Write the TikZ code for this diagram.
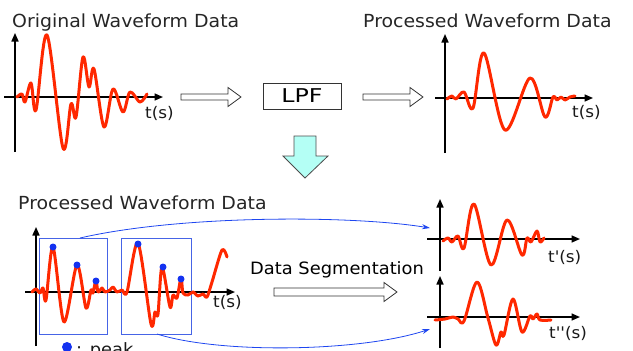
\documentclass[tikz,border=0pt]{standalone}
\usepackage{fontspec}
\setmainfont{DejaVu Sans}[FakeStretch=1.05, Ligatures=TeXOff]
\usetikzlibrary{arrows.meta}
\definecolor{wred}{RGB}{255,40,0}
\definecolor{pkblue}{RGB}{20,50,240}
\definecolor{segblue}{RGB}{70,100,230}
\definecolor{conblue}{RGB}{30,70,240}
\definecolor{aqua}{RGB}{180,255,245}
\tikzset{
  axis/.style={line width=1.5pt, -{Triangle[length=8.5pt,width=7pt]}},
  wave/.style={wred, line width=3pt, line join=round, line cap=round},
  hollow/.style={draw=black!80, fill=white, line width=0.8pt, line join=miter},
  title/.style={font=\fontsize{18}{20}\selectfont, text=black!85, inner sep=0pt, anchor=base west},
  axlabel/.style={font=\fontsize{16}{18}\selectfont, text=black!90, inner sep=0pt, anchor=base west},
  segbox/.style={draw=segblue, line width=0.9pt, minimum width=#1, minimum height=96pt, inner sep=0pt},
  conn/.style={draw=conblue, line width=0.8pt, -{Stealth[length=8pt,width=5pt]}},
  peakdot/.style={circle, fill=pkblue, inner sep=0pt, minimum size=7pt},
}
\newcommand\harrow[6]{\draw[hollow] (#1,#3-#4) -- (#2-#6,#3-#4) -- (#2-#6,#3-#5) -- (#2,#3) -- (#2-#6,#3+#5) -- (#2-#6,#3+#4) -- (#1,#3+#4) -- cycle;}
\begin{document}
\begin{tikzpicture}[x=1pt,y=-1pt]
\useasboundingbox (0,0) rectangle (633,351);

% ---------- top left: original ----------
\node[title] (t1) at (12,27) {Original Waveform Data};
\coordinate (a1b) at (15,152); \coordinate (a1t) at (15,33);
\coordinate (a1l) at (4,97);   \coordinate (a1r) at (163,97);
\draw[axis] (a1b) -- (a1t);
\draw[axis] (a1l) -- (a1r);
\node[axlabel] (l1) at (145,118) {t(s)};
\draw[wave] plot[smooth, tension=0.55] coordinates {
 (17,97) (22,94) (25,102) (31,83) (36,110) (47,35) (63,148) (71,104) (76,117)
 (83,57) (89,87) (94,69) (104,127) (113,89) (123,112) (130,92) (140,102) (147,94)};

% ---------- arrows and LPF ----------
\harrow{181}{241}{97}{3}{9.5}{13}
\node[draw=black!80, line width=0.8pt, minimum width=78pt, minimum height=26pt, inner sep=0pt,
      font=\fontsize{19}{20}\selectfont\addfontfeature{FakeStretch=1.25}] (lpf) at (302,96) {LPF};
\harrow{363}{423}{97}{3}{9.5}{13}
\draw[draw=black!70, fill=aqua, line width=0.8pt]
  (294,136) -- (316,136) -- (316,156) -- (328,156) -- (305,178) -- (283,156) -- (294,156) -- cycle;

% ---------- top right: processed ----------
\node[title] (t2) at (363,27) {Processed Waveform Data};
\coordinate (a2b) at (445,153); \coordinate (a2t) at (445,34);
\coordinate (a2l) at (435,98);  \coordinate (a2r) at (593,98);
\draw[axis] (a2b) -- (a2t);
\draw[axis] (a2l) -- (a2r);
\node[axlabel] (l2) at (572,117) {t(s)};
\draw[wave] plot[smooth, tension=0.55] coordinates {
 (447,99) (452,96) (456,99) (464,92) (473,108) (484,53) (505,130) (530,78) (545,117)
 (553,97) (557,100) (561,97) (565,100) (570,97) (575,96)};

% ---------- bottom left ----------
\node[title] (t3) at (18,209) {Processed Waveform Data};
\coordinate (a3b) at (36,346); \coordinate (a3t) at (36,227);
\coordinate (a3l) at (25,292); \coordinate (a3r) at (235,292);
\draw[axis] (a3b) -- (a3t);
\draw[axis] (a3l) -- (a3r);
\node[axlabel] (l3) at (213,307) {t(s)};
\node[segbox=68pt] (s1) at (73,286) {};
\node[segbox=70pt] (s2) at (156,286) {};
\draw[wave] plot[smooth, tension=0.5] coordinates {
 (32,292) (36,289) (40,293) (43,288) (46,300) (53,247) (64,322) (77,265) (86,308)
 (91,290) (93,293) (96,280) (98,292) (102,288) (105,292) (110,290) (113,287) (117,292)
 (122,290) (127,292) (138,243) (151,324) (155,312) (158,314) (162,267) (170,307)
 (173,295) (177,298) (181,278) (183,293) (188,295) (193,292) (198,296) (203,294)
 (207,297) (212,282) (222,250) (227,257)};
\node[peakdot] (p1) at (53,247) {};
\node[peakdot] (p2) at (77,265) {};
\node[peakdot] (p3) at (96,281) {};
\node[peakdot] (p4) at (138,244) {};
\node[peakdot] (p5) at (163,267) {};
\node[peakdot] (p6) at (181,279) {};
\node[peakdot, minimum size=10pt] (leg) at (67,347) {};
\node[axlabel, font=\fontsize{17}{18}\selectfont] (legt) at (76,355) {: peak};

% ---------- segmentation ----------
\node[title, font=\fontsize{17}{18}\selectfont, text=black] (seg) at (250,274) {Data Segmentation};
\harrow{274}{397}{292}{4}{9.5}{13}

% ---------- right panels ----------
\coordinate (b1b) at (440,271); \coordinate (b1t) at (440,199);
\coordinate (b1l) at (427,239); \coordinate (b1r) at (580,239);
\draw[axis] (b1b) -- (b1t);
\draw[axis] (b1l) -- (b1r);
\node[axlabel] (l4) at (548,262) {t'(s)};
\draw[wave] plot[smooth, tension=0.55] coordinates {
 (443,241) (448,238) (452,242) (458,236) (464,248) (474,204) (491,265) (507,220)
 (522,255) (527,238) (531,242) (537,231) (540,242) (544,238)};

\coordinate (b2b) at (440,348); \coordinate (b2t) at (440,276);
\coordinate (b2l) at (427,317); \coordinate (b2r) at (580,317);
\draw[axis] (b2b) -- (b2t);
\draw[axis] (b2l) -- (b2r);
\node[axlabel] (l5) at (549,338) {t''(s)};
\draw[wave] plot[smooth, tension=0.55] coordinates {
 (435,320) (445,319) (453,317) (458,319) (464,321) (477,282) (488,318) (496,345)
 (501,332) (504,335) (513,299) (522,332) (530,316) (533,319) (537,314) (540,320) (551,320)};

% ---------- connectors ----------
\coordinate (c1s) at (80,238);
\coordinate (c1e) at (430,228);
\coordinate (c2s) at (157,334);
\coordinate (c2e) at (430,329);
\draw[conn] (c1s) .. controls (180,215) and (350,215) .. (c1e);
\draw[conn] (c2s) .. controls (220,354) and (360,352) .. (c2e);
\end{tikzpicture}
\end{document}
